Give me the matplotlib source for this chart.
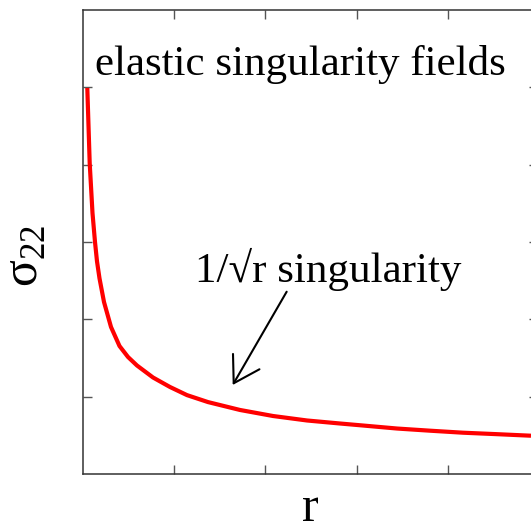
import matplotlib
matplotlib.use('Agg')
import matplotlib.pyplot as plt

plt.rcParams['font.family'] = ['Liberation Serif', 'DejaVu Serif']
plt.rcParams['mathtext.fontset'] = 'custom'
plt.rcParams['mathtext.rm'] = 'Liberation Serif'

# curve (r, sigma_22), in tick units
r_vals = [0.0504, 0.0767, 0.1073, 0.1347, 0.1566, 0.184, 0.2333, 0.31,
          0.4031, 0.4962, 0.5947, 0.77, 0.9562, 1.1424, 1.3724, 1.7229,
          2.0843, 2.4567, 2.8181, 3.0701, 3.4425, 3.8039, 4.1654, 4.5378,
          4.9102]
sigma_vals = [4.992, 4.018, 3.375, 3.0, 2.75, 2.53, 2.224, 1.901,
              1.655, 1.513, 1.403, 1.248, 1.125, 1.02, 0.93, 0.828,
              0.75, 0.692, 0.653, 0.627, 0.588, 0.56, 0.534, 0.515,
              0.495]

title_text = 'elastic singularity fields'
note_text = '1/\u221ar singularity'
arrow_from = (2.234, 2.357)
arrow_to = (1.643, 1.151)

fig = plt.figure(figsize=(5.31, 5.24), dpi=100)
ax = fig.add_axes([82.7 / 531, 50 / 524, 455.3 / 531, 464 / 524])

ax.plot(r_vals, sigma_vals, color='red', linewidth=3,
        solid_capstyle='butt', solid_joinstyle='round')

ax.set_xlim(0, 455.3 / 91.3)
ax.set_ylim(0, 6)
ax.set_xticks([1, 2, 3, 4])
ax.set_yticks([1, 2, 3, 4, 5])
ax.set_xticklabels([])
ax.set_yticklabels([])
ax.tick_params(direction='in', length=6.5, width=1, color='#555555',
               top=True, right=True)
for sp in ax.spines.values():
    sp.set_color('#333333')
    sp.set_linewidth(1.1)

ax.text(0.027, 0.860, title_text, transform=ax.transAxes,
        ha='left', va='baseline', fontsize=31)
ax.text(0.2466, 0.4144, note_text, transform=ax.transAxes,
        ha='left', va='baseline', fontsize=31)
ax.annotate('', xy=arrow_to, xytext=arrow_from,
            arrowprops=dict(arrowstyle='->,head_length=18,head_width=11',
                            mutation_scale=1, color='black', lw=1.5,
                            shrinkA=0, shrinkB=0))

ax.set_xlabel('r', fontsize=36, va='baseline')
ax.xaxis.set_label_coords(0.501, -0.1013)
ax.set_ylabel(r'σ$_{22}$', fontsize=36, va='baseline')
ax.yaxis.set_label_coords(-0.098, 0.47)

fig.savefig('out.png', dpi=100)
